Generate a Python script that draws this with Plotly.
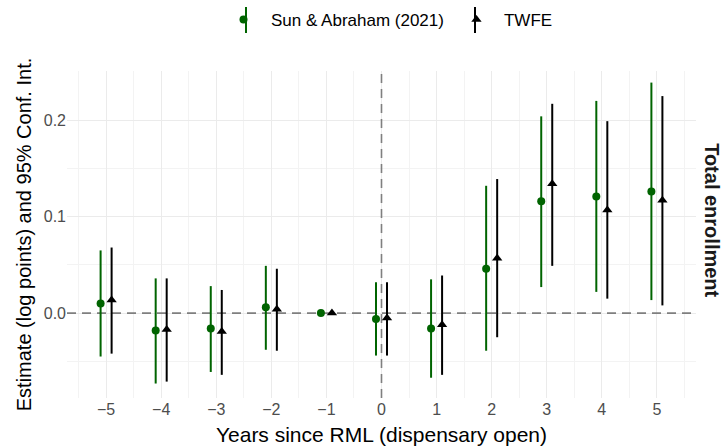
import plotly.graph_objects as go

years = [-5, -4, -3, -2, -1, 0, 1, 2, 3, 4, 5]
tick_labels = ["−5", "−4", "−3", "−2", "−1", "0", "1", "2", "3", "4", "5"]

sa_est = [0.010, -0.018, -0.016, 0.006, 0.0, -0.006, -0.016, 0.046, 0.116, 0.121, 0.126]
sa_hi = [0.065, 0.036, 0.028, 0.049, 0.0, 0.032, 0.035, 0.132, 0.204, 0.220, 0.239]
sa_lo = [-0.045, -0.073, -0.061, -0.038, 0.0, -0.044, -0.067, -0.039, 0.027, 0.022, 0.0135]

tw_est = [0.0135, -0.017, -0.019, 0.004, 0.0, -0.005, -0.012, 0.057, 0.134, 0.107, 0.117]
tw_hi = [0.068, 0.036, 0.024, 0.046, 0.0, 0.032, 0.039, 0.139, 0.217, 0.199, 0.225]
tw_lo = [-0.042, -0.071, -0.064, -0.039, 0.0, -0.044, -0.064, -0.025, 0.049, 0.015, 0.008]

x_range = [-5.71, 5.71]
y_range = [-0.088, 0.251]
dodge = 0.1
green = "#006400"

fig = go.Figure()
fig.add_trace(go.Scatter(
    x=[v - dodge for v in years], y=sa_est, mode="markers", name="Sun & Abraham (2021)",
    marker=dict(color=green, size=8, symbol="circle"),
    error_y=dict(type="data", symmetric=False,
                 array=[h - e for h, e in zip(sa_hi, sa_est)],
                 arrayminus=[e - l for e, l in zip(sa_est, sa_lo)],
                 color=green, thickness=2, width=0),
))
fig.add_trace(go.Scatter(
    x=[v + dodge for v in years], y=tw_est, mode="markers", name="TWFE",
    marker=dict(color="black", size=9, symbol="triangle-up"),
    error_y=dict(type="data", symmetric=False,
                 array=[h - e for h, e in zip(tw_hi, tw_est)],
                 arrayminus=[e - l for e, l in zip(tw_est, tw_lo)],
                 color="black", thickness=2, width=0),
))

dash_line = dict(color="#7f7f7f", width=1.6, dash="9px,6px")
fig.add_shape(type="line", xref="x", yref="y", x0=x_range[0], x1=x_range[1], y0=0, y1=0,
              line=dash_line, layer="between")
fig.add_shape(type="line", xref="x", yref="y", x0=0, x1=0, y0=y_range[0], y1=y_range[1],
              line=dash_line, layer="between")

# vertical interval strokes in the legend keys (pixel positions converted to paper coords)
def px_to_paper_x(px):
    return (px - 67) / 629

def px_to_paper_y(py):
    return (398 - py) / 327

for kx, kc in [(246, green), (475, "black")]:
    fig.add_shape(type="line", xref="paper", yref="paper",
                  x0=px_to_paper_x(kx), x1=px_to_paper_x(kx),
                  y0=px_to_paper_y(33), y1=px_to_paper_y(7),
                  line=dict(color=kc, width=2), layer="below")

fig.add_annotation(text="<b>Total enrollment</b>", textangle=90, xref="paper", yref="paper",
                   x=1.026, y=0.5, yshift=14, showarrow=False, xanchor="center", yanchor="middle",
                   font=dict(size=20, color="#1a1a1a"))

fig.update_layout(
    width=726, height=448,
    margin=dict(l=67, r=30, t=71, b=50, autoexpand=False),
    plot_bgcolor="white", paper_bgcolor="white",
    font=dict(family="Liberation Sans, Arial, sans-serif", color="black"),
    showlegend=True,
    legend=dict(orientation="h", x=px_to_paper_x(216), xanchor="left", y=px_to_paper_y(20), yanchor="middle",
                font=dict(size=17, color="black"), itemwidth=45, bgcolor="rgba(0,0,0,0)"),
    xaxis=dict(range=x_range, tickmode="array", tickvals=years, ticktext=tick_labels,
               showgrid=True, gridcolor="#EBEBEB", gridwidth=1.2, zeroline=False,
               showline=False, ticks="", automargin=False,
               minor=dict(tickmode="array", tickvals=[v + 0.5 for v in range(-6, 6)],
                          showgrid=True, gridcolor="#F3F3F3", gridwidth=0.6),
               tickfont=dict(size=16, color="#4D4D4D"),
               title=dict(text="Years since RML (dispensary open)", font=dict(size=21, color="black"), standoff=10)),
    yaxis=dict(range=y_range, tickmode="array", tickvals=[0.0, 0.1, 0.2],
               ticktext=["0.0", "0.1", "0.2"],
               showgrid=True, gridcolor="#EBEBEB", gridwidth=1.2, zeroline=False,
               showline=False, ticks="", automargin=False,
               minor=dict(tickmode="array", tickvals=[-0.05, 0.05, 0.15, 0.25],
                          showgrid=True, gridcolor="#F3F3F3", gridwidth=0.6),
               tickfont=dict(size=16, color="#4D4D4D"),
               title=dict(text="Estimate (log points) and 95% Conf. Int.", font=dict(size=20, color="black"), standoff=6)),
)

fig.write_html("out.html")
